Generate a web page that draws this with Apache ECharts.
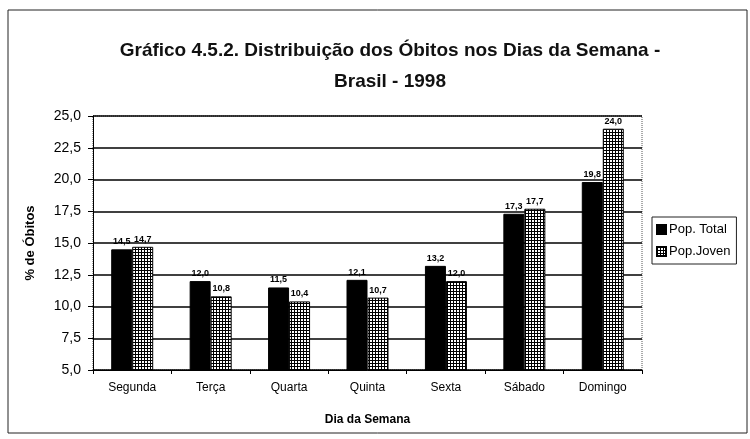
<!DOCTYPE html>
<html>
<head>
<meta charset="utf-8">
<script src="https://cdn.jsdelivr.net/npm/echarts@6/dist/echarts.min.js"></script>
<style>
  html, body { margin: 0; padding: 0; background: #fff; }
  #chart { width: 750px; height: 439px; }
</style>
</head>
<body>
<div id="chart"></div>
<script>
var dias = ['Segunda', 'Terça', 'Quarta', 'Quinta', 'Sexta', 'Sábado', 'Domingo'];
var popTotal = [14.5, 12.0, 11.5, 12.1, 13.2, 17.3, 19.8];
var popJoven = [14.7, 10.8, 10.4, 10.7, 12.0, 17.7, 24.0];

// checkered texture for Pop.Joven
var tex = document.createElement('canvas');
tex.width = 3;
tex.height = 3;
var ctx = tex.getContext('2d');
ctx.fillStyle = '#000';
ctx.fillRect(0, 0, 3, 3);
ctx.fillStyle = '#fff';
ctx.fillRect(1, 1, 2, 2);

function virgula(v) {
  return v.toFixed(1).replace('.', ',');
}

var chart = echarts.init(document.getElementById('chart'));
chart.setOption({
  backgroundColor: '#fff',
  animation: false,
  title: {
    text: 'Gráfico 4.5.2. Distribuição dos Óbitos nos Dias da Semana -\nBrasil - 1998',
    left: 385,
    top: 30,
    textAlign: 'center',
    textStyle: {
      fontFamily: 'Liberation Sans',
      fontSize: 19,
      fontWeight: 'bold',
      color: '#111',
      lineHeight: 31
    }
  },
  graphic: [{
    type: 'rect',
    shape: { x: 8, y: 10, width: 739, height: 423 },
    style: { fill: 'none', stroke: '#222', lineWidth: 1 },
    silent: true
  }],
  legend: {
    orient: 'vertical',
    left: 652,
    top: 217,
    icon: 'rect',
    itemWidth: 9,
    itemHeight: 9,
    itemGap: 9,
    padding: [6, 6, 6, 4],
    borderColor: '#222',
    borderWidth: 1,
    textStyle: { fontFamily: 'Liberation Sans', fontSize: 13, color: '#000', padding: [0, 0, 0, -2] },
    data: ['Pop. Total', 'Pop.Joven']
  },
  grid: {
    left: 93,
    right: 108,
    top: 116,
    bottom: 69,
    show: true,
    borderColor: '#555',
    borderWidth: 1,
    borderType: 'dotted'
  },
  xAxis: {
    type: 'category',
    data: dias,
    name: 'Dia da Semana',
    nameLocation: 'middle',
    nameGap: 44,
    nameTextStyle: { fontFamily: 'Liberation Sans', fontSize: 12, fontWeight: 'bold', color: '#000' },
    axisLine: { lineStyle: { color: '#000', width: 1 } },
    axisTick: { show: true, length: 4, lineStyle: { color: '#000' } },
    axisLabel: { fontFamily: 'Liberation Sans', fontSize: 12, color: '#000', margin: 12 }
  },
  yAxis: {
    type: 'value',
    min: 5,
    max: 25,
    interval: 2.5,
    name: '% de Óbitos',
    nameLocation: 'middle',
    nameGap: 56,
    nameTextStyle: { fontFamily: 'Liberation Sans', fontSize: 13, fontWeight: 'bold', color: '#000' },
    axisLine: { show: true, lineStyle: { color: '#000', width: 1 } },
    axisTick: { show: true, length: 5, lineStyle: { color: '#000' } },
    axisLabel: {
      fontFamily: 'Liberation Sans',
      fontSize: 14,
      color: '#000',
      margin: 12,
      formatter: function (v) { return virgula(v); }
    },
    splitLine: { lineStyle: { color: '#000', width: 1.5 } }
  },
  series: [{
    name: 'Pop. Total',
    type: 'bar',
    data: popTotal,
    barWidth: 21,
    barGap: '0%',
    itemStyle: { color: '#000', borderColor: '#000', borderWidth: 1 },
    label: {
      show: true,
      position: 'top',
      distance: 3,
      fontFamily: 'Liberation Sans',
      fontSize: 9,
      fontWeight: 'bold',
      color: '#000',
      formatter: function (p) { return virgula(p.value); }
    }
  }, {
    name: 'Pop.Joven',
    type: 'bar',
    data: popJoven,
    barWidth: 21,
    itemStyle: {
      color: { image: tex, repeat: 'repeat' },
      borderColor: '#000',
      borderWidth: 1
    },
    label: {
      show: true,
      position: 'top',
      distance: 3,
      fontFamily: 'Liberation Sans',
      fontSize: 9,
      fontWeight: 'bold',
      color: '#000',
      formatter: function (p) { return virgula(p.value); }
    }
  }]
});
</script>
</body>
</html>
